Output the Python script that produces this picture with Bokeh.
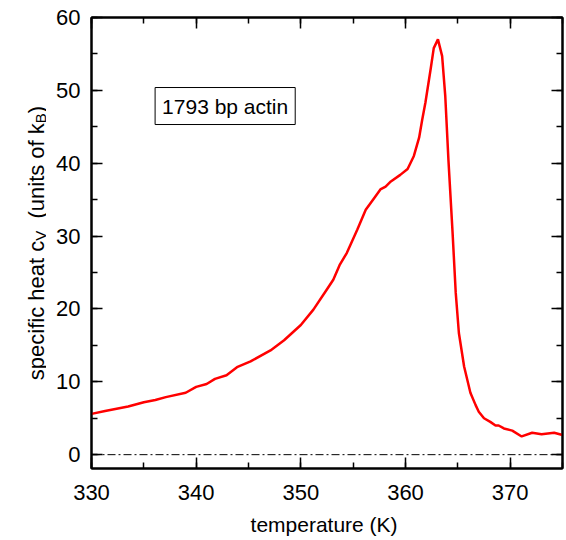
import math
from bokeh.plotting import figure
from bokeh.layouts import row
from bokeh.models import Range1d, LinearAxis, SingleIntervalTicker, Span, Label
from bokeh.core.properties import value
from bokeh.embed import file_html
from bokeh.resources import INLINE

# ---- data ----
temperature = [330, 331.3, 333.5, 335, 336.1, 337.1, 339, 340, 341, 341.8, 342.9, 343.9,
               345.2, 347.1, 348.4, 350, 351.2, 352.5, 353.1, 353.7, 354.4, 355.4, 356.2,
               357.0, 357.6, 358.1, 358.6, 359.5, 360.2, 360.8, 361.3, 361.6, 361.9, 362.4,
               362.7, 363.1, 363.5, 363.8, 364.1, 364.5, 364.8, 365.1, 365.6, 366.2, 366.7,
               367.0, 367.5, 368.1, 368.6, 368.9, 369.4, 370.2, 371.1, 372.1, 373.0, 374.2, 375]
specific_heat = [5.6, 6.0, 6.6, 7.2, 7.5, 7.9, 8.5, 9.3, 9.7, 10.4, 10.9, 12.0,
                 12.8, 14.3, 15.7, 17.8, 19.9, 22.7, 24.0, 26.0, 27.7, 30.9, 33.6,
                 35.2, 36.4, 36.8, 37.5, 38.4, 39.2, 41.0, 43.5, 46.0, 48.3, 52.9,
                 55.8, 57.0, 54.7, 49.2, 40.5, 30.4, 22.2, 16.7, 12.1, 8.5, 6.8,
                 5.9, 5.0, 4.5, 4.0, 4.0, 3.6, 3.3, 2.5, 3.0, 2.8, 3.0, 2.7]
x_limits = (330, 375)
y_limits = (-1.9, 60)
x_ticks = [330, 340, 350, 360, 370]
y_ticks = [0, 10, 20, 30, 40, 50, 60]
tick_interval = 10
legend_text = "1793 bp actin"
x_label = "temperature  (K)"
y_label_parts = ["specific heat c", "V", "(units of k", "B", ")"]

FONT = "Liberation Sans"
LEFT_W = 46
H = 540
TOP, BOTTOM = 17, 72

# ---------------- main plot ----------------
y_range = Range1d(*y_limits)
p = figure(width=566 - LEFT_W, height=H, output_backend="svg", toolbar_location=None,
           x_range=Range1d(*x_limits), y_range=y_range,
           x_axis_location=None, y_axis_location=None,
           min_border_left=91 - LEFT_W, min_border_right=4, min_border_top=TOP,
           min_border_bottom=BOTTOM)
p.grid.visible = False
p.outline_line_color = "black"
p.outline_line_width = 2
p.background_fill_color = "white"
p.border_fill_color = "white"


def make_axis(labels=True, ticks=()):
    ax = LinearAxis(ticker=SingleIntervalTicker(interval=tick_interval, num_minor_ticks=2))
    ax.major_tick_in = 11
    ax.major_tick_out = 0
    ax.minor_tick_in = 6
    ax.minor_tick_out = 0
    ax.axis_line_width = 2
    ax.major_tick_line_width = 1.5
    ax.minor_tick_line_width = 1.5
    ax.major_label_text_font = FONT
    ax.major_label_text_font_size = "22px"
    ax.major_label_text_color = "black"
    if not labels:
        ax.major_label_overrides = {t: "" for t in ticks}
        ax.major_label_text_font_size = "0px"
        ax.major_label_standoff = 0
    return ax


xb = make_axis(True)
xb.major_label_standoff = 16
xb.axis_label = x_label
xb.axis_label_text_font = FONT
xb.axis_label_text_font_size = "21px"
xb.axis_label_text_font_style = "normal"
xb.axis_label_text_color = "black"
xb.axis_label_standoff = 10
p.add_layout(xb, "below")

yl = make_axis(True)
yl.major_label_standoff = 11
p.add_layout(yl, "left")

p.add_layout(make_axis(False, x_ticks), "above")
p.add_layout(make_axis(False, y_ticks), "right")

p.add_layout(Span(location=0, dimension="width", line_color="black",
                  line_width=1, line_dash="8 3 2 3"))

p.line(temperature, specific_heat, line_color="#ff0000", line_width=2.5)

p.add_layout(Label(x=342.77, y=47.85, text=legend_text, text_align="center",
                   text_baseline="middle", text_font=FONT, text_font_size="21px",
                   text_color="black",
                   border_line_color="black", border_line_width=1,
                   background_fill_color="white", padding=7))

# ---------------- y-axis title strip (with subscripts) ----------------
q = figure(width=LEFT_W, height=H, output_backend="svg", toolbar_location=None,
           x_range=Range1d(0, LEFT_W), y_range=y_range,
           x_axis_location=None, y_axis_location=None,
           min_border_left=0, min_border_right=0, min_border_top=TOP,
           min_border_bottom=BOTTOM)
q.grid.visible = False
q.outline_line_color = None
q.background_fill_color = "white"
q.border_fill_color = "white"

frame_h = H - TOP - BOTTOM
px_per_unit = frame_h / (y_limits[1] - y_limits[0])

big, small = 22, 15
w_main = 6.336 * big
w_sub = 0.667 * small
w_space2 = 0.556 * big
w_units = (4.891 - 0.556) * big
offsets = [0, w_main, w_main + w_sub + w_space2,
           w_main + w_sub + w_space2 + w_units,
           w_main + w_sub + w_space2 + w_units + w_sub]
total = offsets[-1] + 0.333 * big
sizes = [big, small, big, small, big]
shifts = [0, 4, 0, 4, 0]
base_x = 36
center_px = frame_h / 2
start_px = center_px - total / 2
for txt, off, sz, sh in zip(y_label_parts, offsets, sizes, shifts):
    yy = y_limits[0] + (start_px + off) / px_per_unit
    q.text(x=[base_x + sh], y=[yy], text=[txt], angle=math.pi / 2,
           text_align="left", text_baseline="alphabetic",
           text_font=value(FONT), text_font_size=value(f"{sz}px"), text_color="black")

layout = row(q, p, spacing=0)
open("out.html", "w").write(file_html(layout, INLINE))
